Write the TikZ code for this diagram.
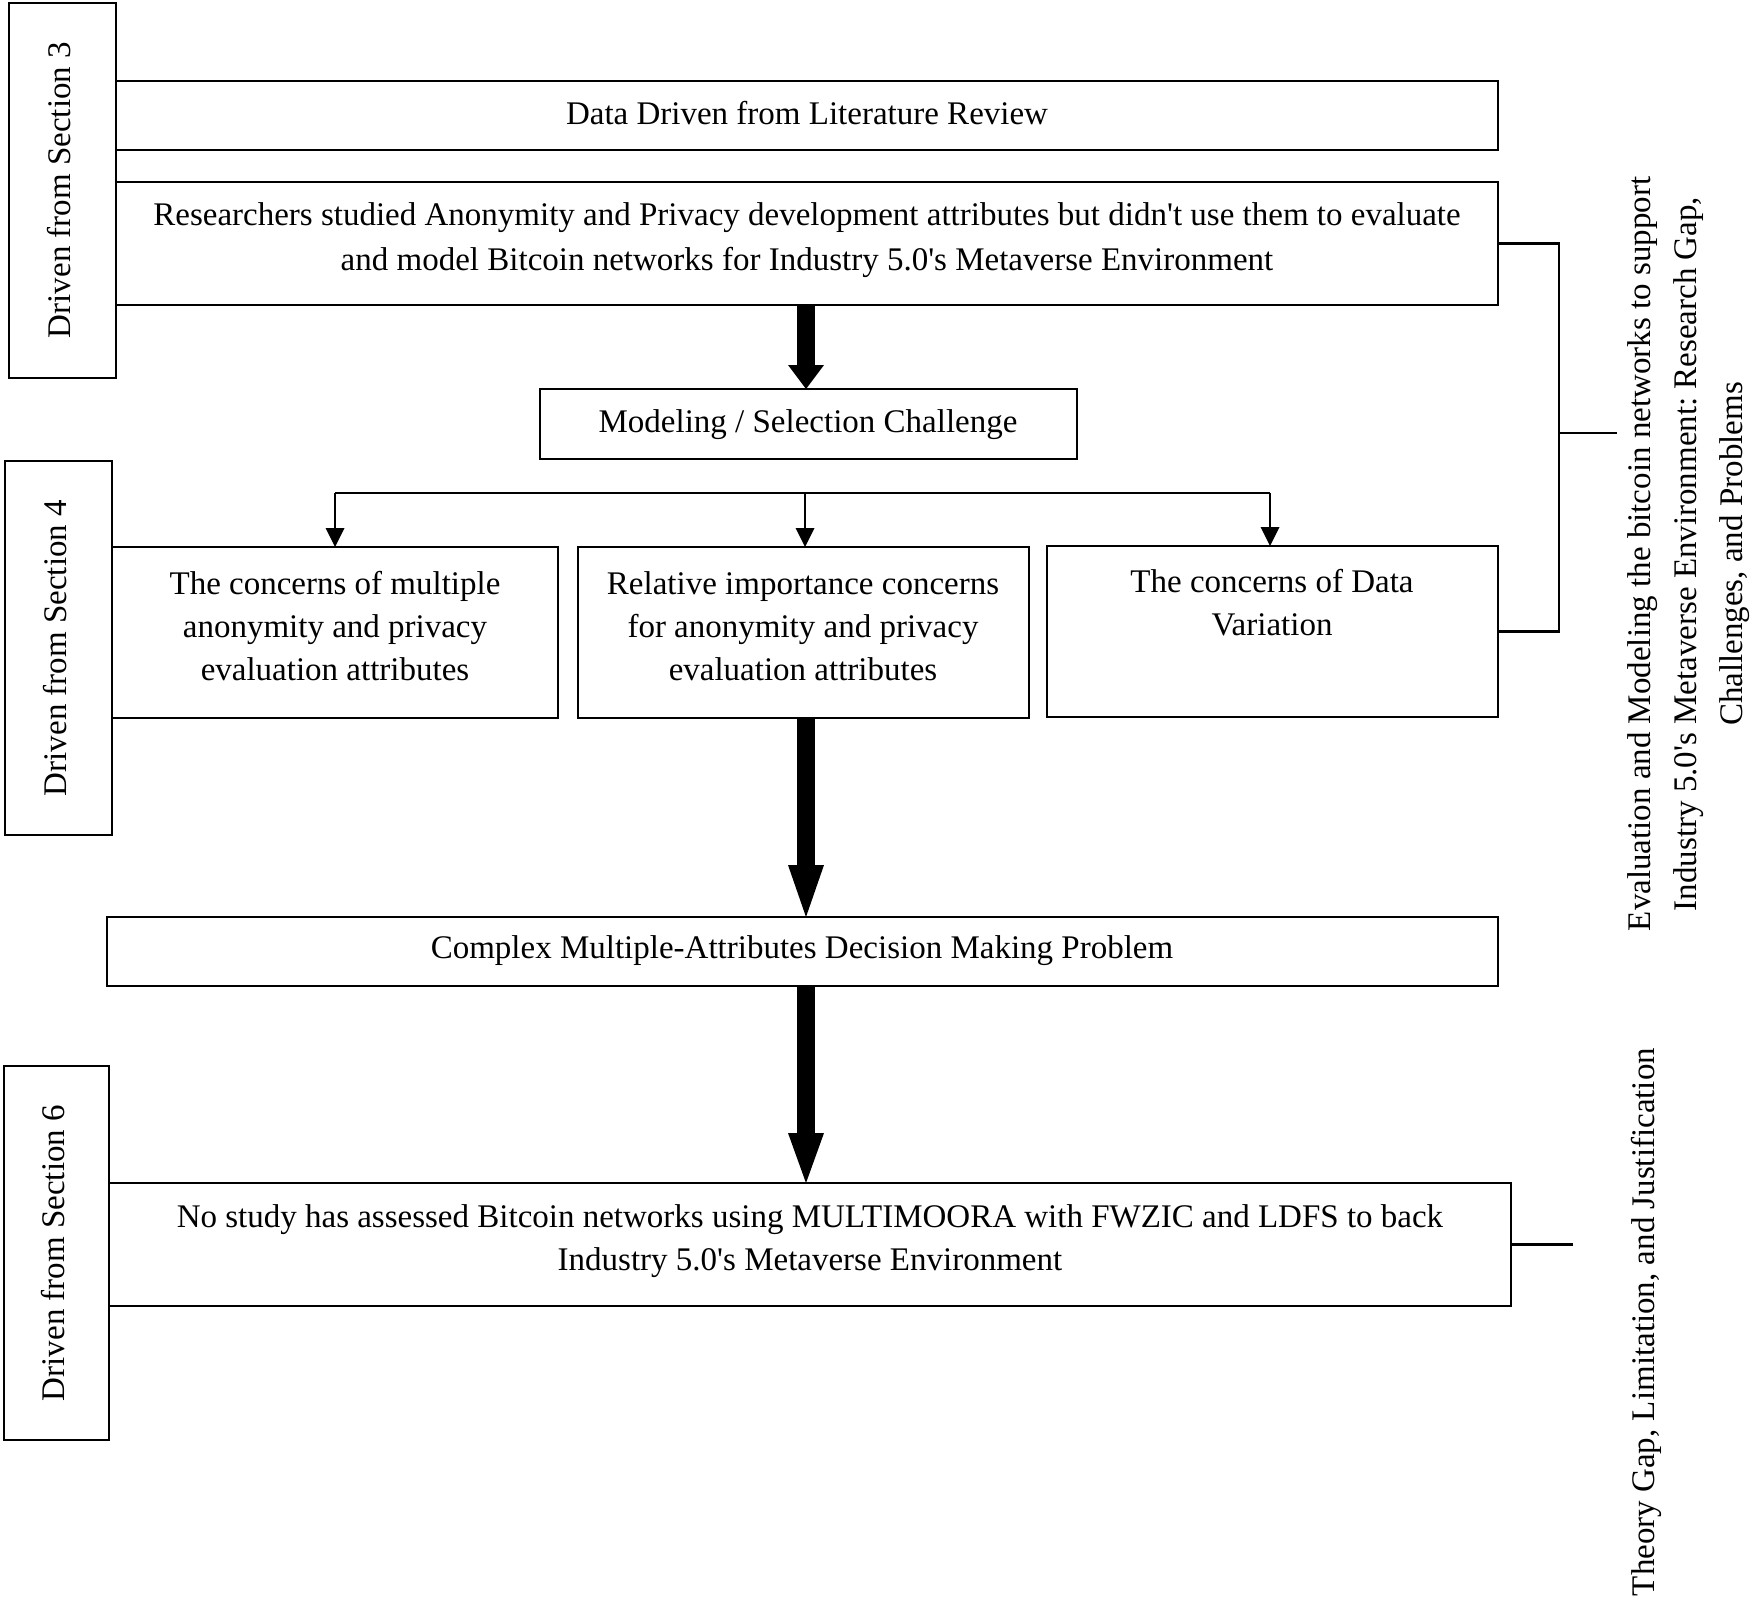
\documentclass[tikz,border=0pt]{standalone}
\usepackage{fontspec}
\setmainfont{Liberation Serif}[Ligatures=TeXOff]
\usetikzlibrary{arrows.meta,calc}
\frenchspacing
\begin{document}
\frenchspacing
\begin{tikzpicture}[x=1pt,y=-1pt,
  every node/.style={font=\fontsize{33}{43}\selectfont, inner sep=0pt, outer sep=0pt},
  box/.style={draw, line width=2.2pt, rectangle},
  txt/.style={align=center},
  thinline/.style={line width=2.2pt},
  tarrow/.style={line width=2.2pt, -{Triangle[width=19pt,length=19pt,line width=0pt]}},
  bigarrow/.style={line width=18pt, -{Triangle[width=36pt,length=#1,line width=0pt]}}
]
\fill[white] (0,0) rectangle (1750,1600);
\useasboundingbox (0,0) rectangle (1750,1600);

% section boxes
\node[box, minimum width=107pt, minimum height=375pt] (S3) at (62.5,190.5) {};
\node[box, minimum width=107pt, minimum height=374pt] (S4) at (58.5,648) {};
\node[box, minimum width=105pt, minimum height=374pt] (S6) at (56.5,1253) {};

% main boxes
\node[box, minimum width=1382pt, minimum height=69pt] (DD) at (807,115.5) {};
\node[box, minimum width=1382pt, minimum height=123pt] (RS) at (807,243.5) {};
\node[box, minimum width=537pt, minimum height=70pt] (MS) at (808.5,424) {};
\node[box, minimum width=446pt, minimum height=171pt] (A) at (335,632.5) {};
\node[box, minimum width=451pt, minimum height=171pt] (B) at (803.5,632.5) {};
\node[box, minimum width=451pt, minimum height=171pt] (C) at (1272.5,631.5) {};
\node[box, minimum width=1391pt, minimum height=69pt] (CM) at (802.5,951.5) {};
\node[box, minimum width=1402pt, minimum height=123pt] (NS) at (810,1244.5) {};

% texts
\node[txt] (tDD) at (807,113) {Data Driven from Literature Review};
\node[txt, font=\fontsize{33}{45}\selectfont] (tRS) at (807,240) {Researchers studied Anonymity and Privacy development attributes but didn't use them to evaluate\\and model Bitcoin networks for Industry 5.0's Metaverse Environment};
\node (tMS) at (808,425) {Modeling / Selection Challenge};
\node[txt] (tA) at (335,626) {The concerns of multiple\\anonymity and privacy\\evaluation attributes};
\node[txt] (tB) at (803,626) {Relative importance concerns\\for anonymity and privacy\\evaluation attributes};
\node[txt] (tC) at (1272,603) {The concerns of Data\\Variation};
\node (tCM) at (802,951) {Complex Multiple-Attributes Decision Making Problem};
\node[txt] (tNS) at (810,1241) {No study has assessed Bitcoin networks using MULTIMOORA with FWZIC and LDFS to back\\Industry 5.0's Metaverse Environment};
\node[rotate=90] (tS3) at (59,190) {Driven from Section 3};
\node[rotate=90] (tS4) at (55,648) {Driven from Section 4};
\node[rotate=90] (tS6) at (53,1253) {Driven from Section 6};
\node[rotate=90, txt, font=\fontsize{33}{46}\selectfont] (tEV) at (1689,554) {Evaluation and Modeling the bitcoin networks to support\\Industry 5.0's Metaverse Environment: Research Gap,\\Challenges, and Problems};
\node[rotate=90] (tTG) at (1646,1322) {Theory Gap, Limitation, and Justification};

% thick arrows
\coordinate (ax) at (806,0);
\draw[bigarrow=24pt] (RS.south -| ax) -- (MS.north -| ax);
\draw[bigarrow=52pt] (B.south -| ax) -- (CM.north -| ax);
\draw[bigarrow=50pt] (CM.south -| ax) -- (NS.north -| ax);

% branch
\coordinate (bl) at (335,493);
\coordinate (bm) at (805,493);
\coordinate (br) at (1270,493);
\draw[thinline] (bl) -- (br);
\draw[tarrow] (bl) -- (A.north);
\draw[tarrow] (bm) -- (B.north -| bm);
\draw[tarrow] (br) -- (C.north -| br);

% right bracket
\coordinate (bk) at (1559,0);
\coordinate (bkm) at (1617,433);
\draw[thinline] (RS.east) -- (RS.east -| bk) -- (bk |- C.east) -- (C.east);
\draw[thinline] (bkm -| bk) -- (bkm);

% theory line
\coordinate (tl) at (1573,0);
\draw[thinline] (NS.east) -- (NS.east -| tl);
\end{tikzpicture}
\end{document}
